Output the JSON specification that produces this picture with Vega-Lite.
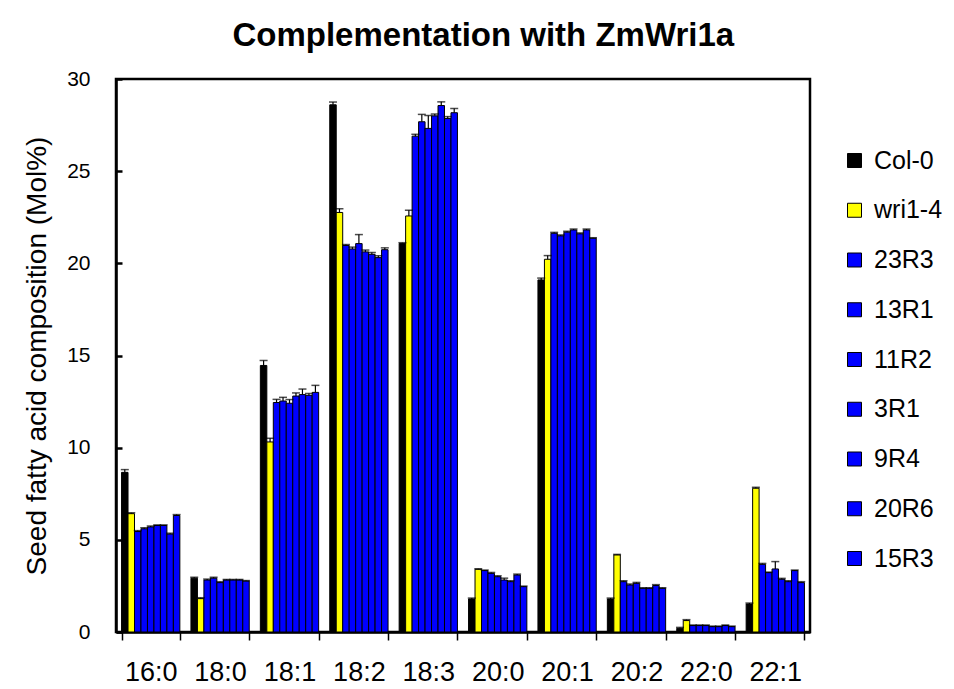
{
  "$schema": "https://vega.github.io/schema/vega-lite/v6.json",
  "width": 694,
  "height": 553,
  "padding": {"left": 23, "top": 20, "right": 5, "bottom": 0},
  "background": "white",
  "title": {"text": "Complementation with ZmWri1a", "font": "Liberation Sans", "fontSize": 33, "fontWeight": "bold", "color": "black", "offset": 15, "frame": "bounds", "anchor": "middle"},
  "config": {
    "view": {"stroke": "black", "strokeWidth": 2.5},
    "font": "Liberation Sans"
  },
  "data": {"values": [
    {"fa":"16:0","g":"Col-0","v":8.66,"hi":8.81},
    {"fa":"16:0","g":"wri1-4","v":6.42,"hi":6.47},
    {"fa":"16:0","g":"23R3","v":5.45,"hi":5.5},
    {"fa":"16:0","g":"13R1","v":5.6,"hi":5.65},
    {"fa":"16:0","g":"11R2","v":5.7,"hi":5.75},
    {"fa":"16:0","g":"3R1","v":5.78,"hi":5.81},
    {"fa":"16:0","g":"9R4","v":5.78,"hi":5.81},
    {"fa":"16:0","g":"20R6","v":5.31,"hi":5.36},
    {"fa":"16:0","g":"15R3","v":6.32,"hi":6.37},
    {"fa":"18:0","g":"Col-0","v":2.92,"hi":2.97},
    {"fa":"18:0","g":"wri1-4","v":1.81,"hi":1.86},
    {"fa":"18:0","g":"23R3","v":2.82,"hi":2.87},
    {"fa":"18:0","g":"13R1","v":2.92,"hi":2.97},
    {"fa":"18:0","g":"11R2","v":2.68,"hi":2.73},
    {"fa":"18:0","g":"3R1","v":2.82,"hi":2.85},
    {"fa":"18:0","g":"9R4","v":2.82,"hi":2.85},
    {"fa":"18:0","g":"20R6","v":2.82,"hi":2.85},
    {"fa":"18:0","g":"15R3","v":2.76,"hi":2.79},
    {"fa":"18:1","g":"Col-0","v":14.46,"hi":14.73},
    {"fa":"18:1","g":"wri1-4","v":10.31,"hi":10.51},
    {"fa":"18:1","g":"23R3","v":12.45,"hi":12.62},
    {"fa":"18:1","g":"13R1","v":12.53,"hi":12.73},
    {"fa":"18:1","g":"11R2","v":12.41,"hi":12.61},
    {"fa":"18:1","g":"3R1","v":12.8,"hi":12.97},
    {"fa":"18:1","g":"9R4","v":12.88,"hi":13.18},
    {"fa":"18:1","g":"20R6","v":12.84,"hi":12.94},
    {"fa":"18:1","g":"15R3","v":13.0,"hi":13.38},
    {"fa":"18:2","g":"Col-0","v":28.6,"hi":28.75},
    {"fa":"18:2","g":"wri1-4","v":22.76,"hi":22.96},
    {"fa":"18:2","g":"23R3","v":20.97,"hi":21.02},
    {"fa":"18:2","g":"13R1","v":20.78,"hi":20.88},
    {"fa":"18:2","g":"11R2","v":21.07,"hi":21.56},
    {"fa":"18:2","g":"3R1","v":20.62,"hi":20.72},
    {"fa":"18:2","g":"9R4","v":20.49,"hi":20.59},
    {"fa":"18:2","g":"20R6","v":20.31,"hi":20.41},
    {"fa":"18:2","g":"15R3","v":20.74,"hi":20.84},
    {"fa":"18:3","g":"Col-0","v":21.07,"hi":21.12},
    {"fa":"18:3","g":"wri1-4","v":22.57,"hi":22.88},
    {"fa":"18:3","g":"23R3","v":26.9,"hi":27.0},
    {"fa":"18:3","g":"13R1","v":27.68,"hi":28.08},
    {"fa":"18:3","g":"11R2","v":27.32,"hi":28.02},
    {"fa":"18:3","g":"3R1","v":28.0,"hi":28.1},
    {"fa":"18:3","g":"9R4","v":28.56,"hi":28.76},
    {"fa":"18:3","g":"20R6","v":27.86,"hi":27.96},
    {"fa":"18:3","g":"15R3","v":28.17,"hi":28.4},
    {"fa":"20:0","g":"Col-0","v":1.79,"hi":1.84},
    {"fa":"20:0","g":"wri1-4","v":3.4,"hi":3.43},
    {"fa":"20:0","g":"23R3","v":3.33,"hi":3.36},
    {"fa":"20:0","g":"13R1","v":3.18,"hi":3.23},
    {"fa":"20:0","g":"11R2","v":3.0,"hi":3.05},
    {"fa":"20:0","g":"3R1","v":2.82,"hi":2.92},
    {"fa":"20:0","g":"9R4","v":2.73,"hi":2.78},
    {"fa":"20:0","g":"20R6","v":3.09,"hi":3.14},
    {"fa":"20:0","g":"15R3","v":2.46,"hi":2.49},
    {"fa":"20:1","g":"Col-0","v":19.1,"hi":19.2},
    {"fa":"20:1","g":"wri1-4","v":20.22,"hi":20.42},
    {"fa":"20:1","g":"23R3","v":21.63,"hi":21.68},
    {"fa":"20:1","g":"13R1","v":21.49,"hi":21.54},
    {"fa":"20:1","g":"11R2","v":21.69,"hi":21.74},
    {"fa":"20:1","g":"3R1","v":21.81,"hi":21.86},
    {"fa":"20:1","g":"9R4","v":21.6,"hi":21.65},
    {"fa":"20:1","g":"20R6","v":21.81,"hi":21.86},
    {"fa":"20:1","g":"15R3","v":21.36,"hi":21.39},
    {"fa":"20:2","g":"Col-0","v":1.79,"hi":1.84},
    {"fa":"20:2","g":"wri1-4","v":4.18,"hi":4.21},
    {"fa":"20:2","g":"23R3","v":2.73,"hi":2.78},
    {"fa":"20:2","g":"13R1","v":2.55,"hi":2.6},
    {"fa":"20:2","g":"11R2","v":2.64,"hi":2.69},
    {"fa":"20:2","g":"3R1","v":2.37,"hi":2.4},
    {"fa":"20:2","g":"9R4","v":2.37,"hi":2.4},
    {"fa":"20:2","g":"20R6","v":2.52,"hi":2.57},
    {"fa":"20:2","g":"15R3","v":2.37,"hi":2.4},
    {"fa":"22:0","g":"Col-0","v":0.2,"hi":0.25},
    {"fa":"22:0","g":"wri1-4","v":0.62,"hi":0.67},
    {"fa":"22:0","g":"23R3","v":0.35,"hi":0.38},
    {"fa":"22:0","g":"13R1","v":0.35,"hi":0.38},
    {"fa":"22:0","g":"11R2","v":0.35,"hi":0.38},
    {"fa":"22:0","g":"3R1","v":0.29,"hi":0.32},
    {"fa":"22:0","g":"9R4","v":0.29,"hi":0.32},
    {"fa":"22:0","g":"20R6","v":0.35,"hi":0.38},
    {"fa":"22:0","g":"15R3","v":0.29,"hi":0.32},
    {"fa":"22:1","g":"Col-0","v":1.52,"hi":1.57},
    {"fa":"22:1","g":"wri1-4","v":7.8,"hi":7.85},
    {"fa":"22:1","g":"23R3","v":3.67,"hi":3.72},
    {"fa":"22:1","g":"13R1","v":3.22,"hi":3.25},
    {"fa":"22:1","g":"11R2","v":3.42,"hi":3.82},
    {"fa":"22:1","g":"3R1","v":2.86,"hi":2.91},
    {"fa":"22:1","g":"9R4","v":2.73,"hi":2.78},
    {"fa":"22:1","g":"20R6","v":3.33,"hi":3.36},
    {"fa":"22:1","g":"15R3","v":2.68,"hi":2.73}
  ]},
  "encoding": {
    "x": {"field": "fa", "type": "nominal", "sort": null,
      "scale": {"paddingInner": 0.16, "paddingOuter": 0.08},
      "axis": {"title": null, "labelAngle": 0, "labelFontSize": 27, "labelColor": "black", "labelPadding": 19,
        "tickBand": "extent", "tickSize": 8, "tickWidth": 1.5, "tickColor": "black",
        "domainColor": "black", "domainWidth": 2.5}},
    "xOffset": {"field": "g", "type": "nominal", "sort": ["Col-0","wri1-4","23R3","13R1","11R2","3R1","9R4","20R6","15R3"],
      "scale": {"paddingInner": 0, "paddingOuter": 0}}
  },
  "layer": [
    {
      "mark": {"type": "bar", "stroke": "black", "strokeWidth": 1},
      "encoding": {
        "y": {"field": "v", "type": "quantitative",
          "scale": {"domain": [0, 30], "nice": false},
          "axis": {"title": "Seed fatty acid composition (Mol%)", "titleFontSize": 28, "titleFontWeight": "normal", "titleColor": "black", "titlePadding": 15,
            "values": [0,5,10,15,20,25,30], "grid": false, "labelFontSize": 21, "labelColor": "black",
            "tickSize": -6, "tickWidth": 2.5, "tickColor": "black", "labelPadding": 32,
            "domainColor": "black", "domainWidth": 2.5}},
        "color": {"field": "g", "type": "nominal",
          "sort": ["Col-0","wri1-4","23R3","13R1","11R2","3R1","9R4","20R6","15R3"],
          "scale": {"domain": ["Col-0","wri1-4","23R3","13R1","11R2","3R1","9R4","20R6","15R3"],
                    "range": ["#000000","#FFFF00","#0000FF","#0000FF","#0000FF","#0000FF","#0000FF","#0000FF","#0000FF"]},
          "legend": {"title": null, "orient": "none", "legendX": 726, "legendY": 69,
            "symbolType": "square", "symbolSize": 196, "symbolStrokeColor": "black", "symbolStrokeWidth": 1,
            "labelFontSize": 25, "labelColor": "black", "labelOffset": 7, "rowPadding": 23.75}}
      }
    },
    {
      "mark": {"type": "rule", "color": "black", "strokeWidth": 1.2},
      "encoding": {"y": {"field": "v", "type": "quantitative"}, "y2": {"field": "hi"}}
    },
    {
      "mark": {"type": "tick", "color": "black", "thickness": 1.5, "size": 8, "orient": "horizontal"},
      "encoding": {"y": {"field": "hi", "type": "quantitative"}}
    }
  ]
}
